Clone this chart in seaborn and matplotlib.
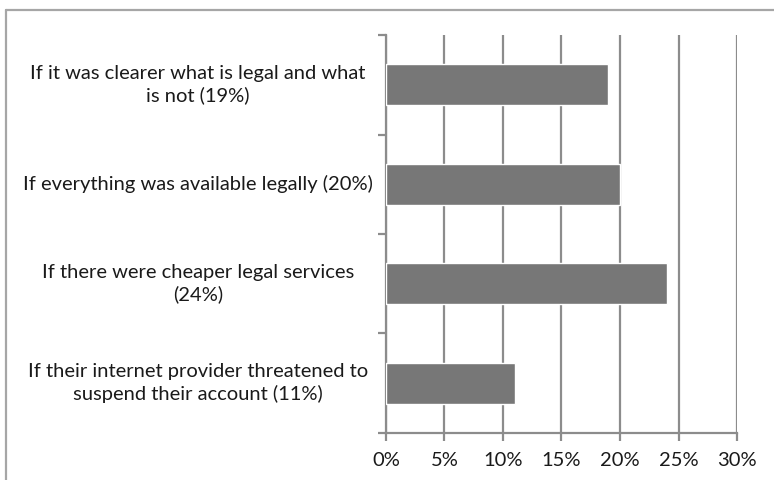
import matplotlib
matplotlib.use("Agg")
import matplotlib.pyplot as plt
import seaborn as sns
import pandas as pd
from matplotlib.ticker import FixedLocator, FuncFormatter
from matplotlib.transforms import blended_transform_factory

# Reasons (top to bottom) and share of respondents
reasons = [
    "If it was clearer what is legal and what\nis not (19%)",
    "If everything was available legally (20%)",
    "If there were cheaper legal services\n(24%)",
    "If their internet provider threatened to\nsuspend their account (11%)",
]
shares = [19, 20, 24, 11]

df = pd.DataFrame({"reason": reasons, "share": shares})

sns.set_style("white")
plt.rcParams["font.family"] = ["Lato", "DejaVu Sans"]

fig = plt.figure(figsize=(7.74, 4.8), dpi=100)
ax = fig.add_axes([0.4987, 0.098, 0.4535, 0.829])

sns.barplot(data=df, x="share", y="reason", orient="h", color="#777777",
            saturation=1, width=0.41, ax=ax, zorder=3)

grid_c = "#8c8c8c"
ax.set_xlim(0, 30)
ax.set_ylim(3.5, -0.5)
ax.set_xticks(range(0, 31, 5))
ax.xaxis.set_major_formatter(FuncFormatter(lambda v, p: f"{int(v)}%"))
ax.grid(axis="x", color=grid_c, linewidth=1.6, zorder=0)
ax.grid(axis="y", visible=False)

for s in ["top", "right"]:
    ax.spines[s].set_visible(False)
for s in ["left", "bottom"]:
    ax.spines[s].set_color(grid_c)
    ax.spines[s].set_linewidth(1.6)

ax.tick_params(axis="x", direction="out", length=6, width=1.6, color=grid_c,
               labelsize=14.5, pad=8, bottom=True, labelcolor="#1a1a1a")
ax.tick_params(axis="y", which="major", length=0, labelleft=False)
ax.yaxis.set_minor_locator(FixedLocator([-0.5, 0.5, 1.5, 2.5, 3.5]))
ax.tick_params(axis="y", which="minor", direction="out", length=6, width=1.6,
               color=grid_c, left=True)
ax.set_xlabel("")
ax.set_ylabel("")

# category labels, centred in the space left of the axis
trans = blended_transform_factory(ax.transAxes, ax.transData)
label_x = (198 - 386) / 351
for i, r in enumerate(reasons):
    ax.text(label_x, i, r, transform=trans, ha="center", va="center",
            multialignment="center", fontsize=14.5, linespacing=1.3, color="#1a1a1a")

# outer frame of the embedded chart
fig.add_artist(plt.Line2D([6 / 774, 6 / 774], [0, 1 - 10 / 480], color="#a6a6a6", lw=1.6))
fig.add_artist(plt.Line2D([6 / 774, 1], [1 - 10 / 480, 1 - 10 / 480], color="#a6a6a6", lw=1.6))

fig.savefig("out.png", dpi=100)
